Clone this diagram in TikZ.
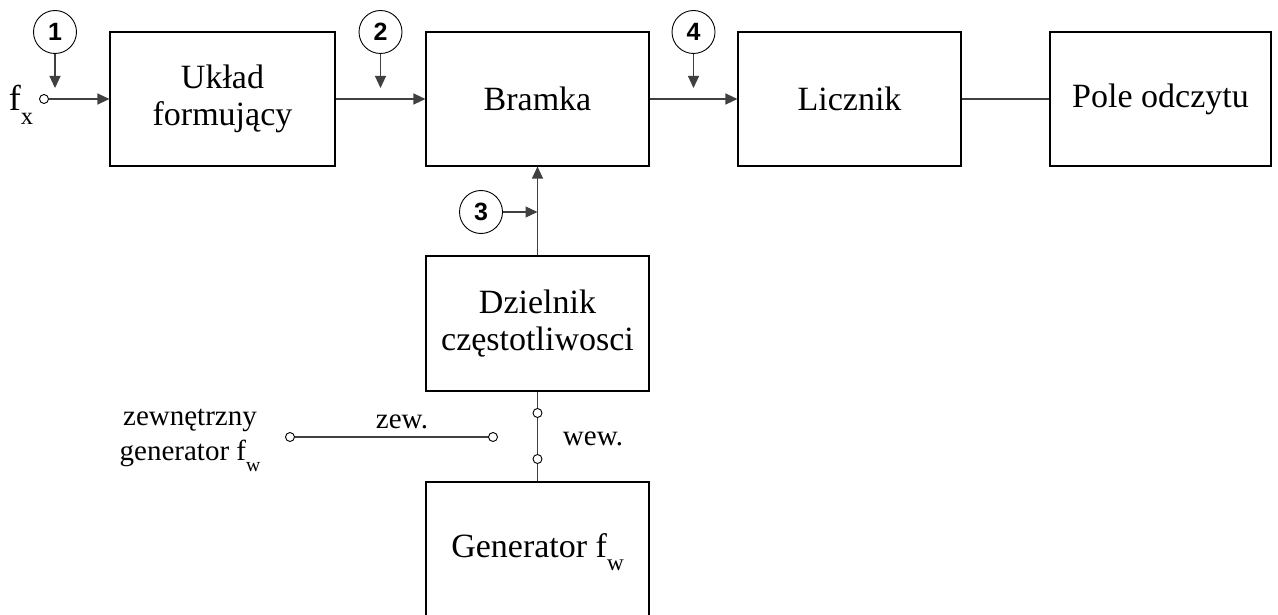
\documentclass[tikz,border=0pt]{standalone}
\usepackage{fontspec}
\setmainfont{Liberation Serif}
\newfontfamily\numfont{Liberation Sans}
\usetikzlibrary{arrows.meta}
\newcommand\indeks[1]{\raisebox{-0.38em}{\scalebox{0.68}{#1}}}
\tikzset{
  blok/.style={draw, line width=1.1pt, minimum width=223pt, minimum height=134pt,
    inner sep=0pt, align=center, font=\fontsize{34}{37}\selectfont},
  znacznik/.style={draw, circle, line width=0.9pt, minimum size=43pt, inner sep=0pt,
    font=\numfont\bfseries\fontsize{25}{25}\selectfont},
  zacisk/.style={draw, circle, line width=0.9pt, minimum size=9pt, inner sep=0pt, fill=white},
  pil/.style={-{Triangle[length=12pt,width=11pt]}},
  linia/.style={line width=1.1pt, draw=black!75},
  opis/.style={align=center, inner sep=0pt, font=\fontsize{29}{35}\selectfont}
}
\begin{document}
\begin{tikzpicture}[x=1pt,y=-1pt]
  \useasboundingbox (0,0) rectangle (1278,615);
  % bloki
  \node[blok, minimum width=225pt] (uklad) at (222.5,99) {Układ\\formujący};
  \node[blok] (bramka) at (537.5,99) {Bramka};
  \node[blok] (licznik) at (849.5,99) {Licznik};
  \node[blok, minimum width=221pt] (pole) at (1160.5,99) {Pole odczytu};
  \node[blok, minimum height=135pt] (dzielnik) at (537.5,323.5) {Dzielnik\\częstotliwosci};
  \node[blok, minimum height=140pt] (gen) at (537.5,552) {Generator f\indeks{w}};
  % zaciski
  \node[zacisk] (we) at (44,99) {};
  \node[zacisk] (sg) at (537.5,413) {};
  \node[zacisk] (sd) at (537.5,459) {};
  \node[zacisk] (zl) at (290,437) {};
  \node[zacisk] (zp) at (493,437) {};
  \coordinate (k3) at (537.5,212);
  % tor sygnalu
  \draw[linia, pil] (we) -- (uklad.west);
  \draw[linia, pil] (uklad.east) -- (bramka.west);
  \draw[linia, pil] (bramka.east) -- (licznik.west);
  \draw[linia] (licznik.east) -- (pole.west);
  \draw[linia, pil] (dzielnik.north) -- (bramka.south);
  \draw[linia] (dzielnik.south) -- (sg);
  \draw[linia] (sg) -- (sd);
  \draw[linia] (sd) -- (gen.north);
  \draw[linia] (zl) -- (zp);
  % punkty pomiarowe
  \node[znacznik] (m1) at (55,32) {1};
  \node[znacznik] (m2) at (380.5,32) {2};
  \node[znacznik] (m4) at (693.5,32) {4};
  \node[znacznik] (m3) at (481,212) {3};
  \coordinate (k1) at (55,88);
  \coordinate (k2) at (380.5,88);
  \coordinate (k4) at (693.5,88);
  \draw[linia, pil] (m1) -- (k1);
  \draw[linia, pil] (m2) -- (k2);
  \draw[linia, pil] (m4) -- (k4);
  \draw[linia, pil] (m3) -- (k3);
  % opisy
  \node[opis, font=\fontsize{36}{36}\selectfont] (fx) at (21,105) {f\indeks{x}};
  \node[opis] (zewgen) at (190,440) {zewnętrzny\\generator f\indeks{w}};
  \node[opis] (zew) at (402,422) {zew.};
  \node[opis] (wew) at (593,439) {wew.};
\end{tikzpicture}
\end{document}
